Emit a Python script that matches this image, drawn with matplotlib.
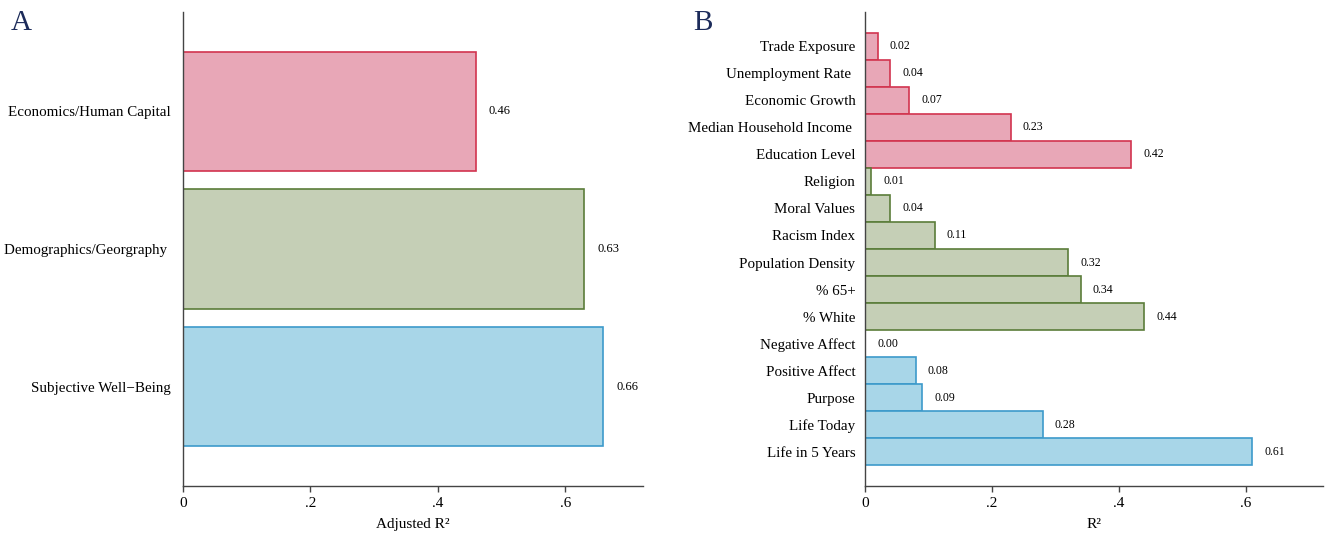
import matplotlib.pyplot as plt

plt.rcParams['font.family'] = ['Liberation Serif', 'DejaVu Serif']

# panel A: adjusted R^2 by domain
domains = ["Economics/Human Capital", "Demographics/Georgraphy ", "Subjective Well\u2212Being"]
domain_r2 = [0.46, 0.63, 0.66]
domain_group = ["econ", "demo", "swb"]

# panel B: R^2 of individual predictors
predictors = ["Trade Exposure", "Unemployment Rate ", "Economic Growth",
              "Median Household Income ", "Education Level", "Religion",
              "Moral Values", "Racism Index", "Population Density", "% 65+",
              "% White", "Negative Affect", "Positive Affect", "Purpose",
              "Life Today", "Life in 5 Years"]
predictor_r2 = [0.02, 0.04, 0.07, 0.23, 0.42, 0.01, 0.04, 0.11, 0.32, 0.34,
                0.44, 0.00, 0.08, 0.09, 0.28, 0.61]
predictor_group = ["econ"] * 5 + ["demo"] * 6 + ["swb"] * 5

xticks = [0, 0.2, 0.4, 0.6]
xticklabels = ["0", ".2", ".4", ".6"]

fills = {"econ": "#e8a7b7", "demo": "#c5cfb6", "swb": "#a8d6e8"}
edges = {"econ": "#d2344f", "demo": "#5b7d3a", "swb": "#3d9acb"}

W, H = 1327, 533
fig = plt.figure(figsize=(W / 100, H / 100), dpi=100)


def style(ax, xlabel):
    ax.spines["top"].set_visible(False)
    ax.spines["right"].set_visible(False)
    for s in ("left", "bottom"):
        ax.spines[s].set_color("#444444")
        ax.spines[s].set_linewidth(1.0)
    ax.set_xlim(0, 0.722)
    ax.set_xticks(xticks)
    ax.set_xticklabels(xticklabels, fontsize=11)
    ax.tick_params(axis="x", length=4, width=1, color="#444444", pad=4)
    ax.tick_params(axis="y", length=0, labelsize=10.8)
    ax.set_xlabel(xlabel, fontsize=11, labelpad=6)


axA = fig.add_axes([183 / W, 47 / H, 460 / W, 474 / H])
posA = list(range(1, len(domains) + 1))
axA.barh(posA, domain_r2, height=0.865,
         color=[fills[g] for g in domain_group],
         edgecolor=[edges[g] for g in domain_group], linewidth=1.2)
for p, v in zip(posA, domain_r2):
    axA.text(v + 0.02, p, f"{v:.2f}", va="center", ha="left", fontsize=9)
axA.set_yticks(posA)
axA.set_yticklabels(domains)
axA.tick_params(axis="y", pad=9)
axA.set_ylim(3.72, 0.28)
style(axA, "Adjusted R\u00b2")

axB = fig.add_axes([865 / W, 47 / H, 458 / W, 474 / H])
posB = list(range(1, len(predictors) + 1))
axB.barh(posB, predictor_r2, height=1.0,
         color=[fills[g] for g in predictor_group],
         edgecolor=[edges[g] for g in predictor_group], linewidth=1.2)
for p, v in zip(posB, predictor_r2):
    axB.text(v + 0.019, p, f"{v:.2f}", va="center", ha="left", fontsize=8.5)
axB.set_yticks(posB)
axB.set_yticklabels(predictors)
axB.tick_params(axis="y", pad=7)
axB.set_ylim(len(predictors) + 1.26, -0.26)
style(axB, "R\u00b2")

fig.text(11 / W, 1 - 30 / H, "A", fontsize=21, color="#1c2b5a")
fig.text(693 / W, 1 - 30 / H, "B", fontsize=21, color="#1c2b5a")

fig.savefig("out.png", dpi=100, facecolor="white")
